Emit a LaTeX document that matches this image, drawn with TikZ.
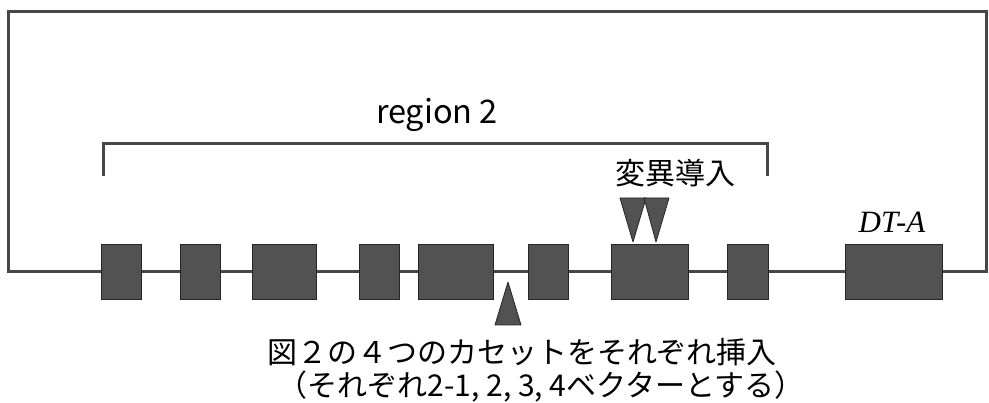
\documentclass[tikz,border=0pt]{standalone}
\usepackage{fontspec}
\setmainfont{Liberation Serif}
\newfontfamily\jp{Noto Sans CJK JP}
\begin{document}
\begin{tikzpicture}[x=1pt,y=-1pt,
  exon/.style={draw=black!85, fill=black!68, line width=1pt, minimum height=55pt, inner sep=0pt},
  wire/.style={draw=black!72, line width=3pt, line join=miter},
  tri/.style={fill=black!68, draw=black!85, line width=0.8pt, line join=round},
  jplbl/.style={inner sep=0pt, font=\jp\fontsize{30}{34}\selectfont}]
\useasboundingbox (0,0) rectangle (989,403);
% exons
\node[exon, minimum width=40pt] (b1) at (121,272) {};
\node[exon, minimum width=40pt] (b2) at (200,272) {};
\node[exon, minimum width=64pt] (b3) at (284,272) {};
\node[exon, minimum width=40pt] (b4) at (379,272) {};
\node[exon, minimum width=75pt] (b5) at (455.5,272) {};
\node[exon, minimum width=40pt] (b6) at (548,272) {};
\node[exon, minimum width=77pt] (b7) at (649.5,272) {};
\node[exon, minimum width=41pt] (b8) at (747.5,272) {};
\node[exon, minimum width=97pt] (b9) at (893.5,272) {};
% backbone
\draw[wire] (b1.east) -- (b2.west);
\draw[wire] (b2.east) -- (b3.west);
\draw[wire] (b3.east) -- (b4.west);
\draw[wire] (b4.east) -- (b5.west);
\draw[wire] (b5.east) -- (b6.west);
\draw[wire] (b6.east) -- (b7.west);
\draw[wire] (b7.east) -- (b8.west);
\draw[wire] (b8.east) -- (b9.west);
\coordinate (tr) at (986,12);
\coordinate (tl) at (8,12);
\draw[wire] (b9.east) -| (tr) -- (tl) |- (b1.west);
% bracket
\coordinate (bl) at (103,176);
\coordinate (br) at (767,176);
\draw[wire] (bl) -- ++(0,-32) -| (br);
\node[inner sep=0pt, anchor=base, font=\jp\fontsize{32.5}{36}\selectfont] (reg) at (437,124) {region 2};
% labels
\node[inner sep=0pt, anchor=base, font=\itshape\fontsize{31}{34}\selectfont] (dta) at (892,233) {DT-A};
\node[jplbl] (mut) at (675,173) {変異導入};
\node[jplbl] (ins1) at (522,352) {図２の４つのカセットをそれぞれ挿入};
\node[jplbl] (ins2) at (541,387) {（それぞれ2-1, 2, 3, 4ベクターとする）};
% triangles
\filldraw[tri] (620,198) -- (646,198) -- (633,242) -- cycle;
\filldraw[tri] (644,198) -- (669,198) -- (656,242) -- cycle;
\filldraw[tri] (495,325) -- (521,325) -- (508,282) -- cycle;
\end{tikzpicture}
\end{document}
